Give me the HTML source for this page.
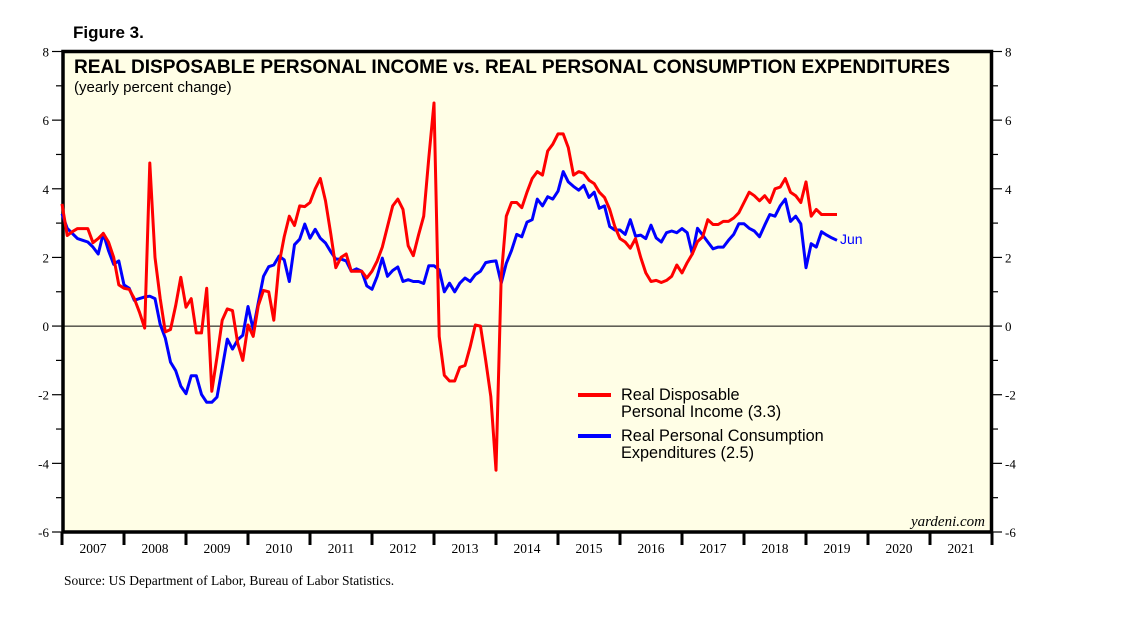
<!DOCTYPE html>
<html><head><meta charset="utf-8"><style>
body{margin:0;background:#fff;width:1138px;height:621px;overflow:hidden}
svg{display:block}
</style></head><body>
<svg id="chart" width="1138" height="621" xmlns="http://www.w3.org/2000/svg" font-family="Liberation Sans, sans-serif">
<text x="73" y="38" font-size="17" font-weight="bold">Figure 3.</text>
<rect x="63" y="51.5" width="928.5" height="480.5" fill="#fffee6" stroke="#000" stroke-width="3.5"/>
<text x="74" y="73" font-size="19" font-weight="bold" textLength="876" lengthAdjust="spacingAndGlyphs">REAL DISPOSABLE PERSONAL INCOME vs. REAL PERSONAL CONSUMPTION EXPENDITURES</text>
<text x="74" y="92" font-size="15">(yearly percent change)</text>
<g id="axes"></g>
<g id="series"></g>
<text x="840" y="244" font-size="14" fill="#0000ff">Jun</text>
<g>
<line x1="578" y1="395" x2="611" y2="395" stroke="#ff0000" stroke-width="4"/>
<text x="621" y="400" font-size="16.3"><tspan x="621">Real Disposable</tspan><tspan x="621" dy="17">Personal Income (3.3)</tspan></text>
<line x1="578" y1="436" x2="611" y2="436" stroke="#0000ff" stroke-width="4"/>
<text x="621" y="441" font-size="16.3"><tspan x="621">Real Personal Consumption</tspan><tspan x="621" dy="17">Expenditures (2.5)</tspan></text>
</g>
<text x="985" y="526" font-size="15" font-style="italic" font-family="Liberation Serif, serif" text-anchor="end">yardeni.com</text>
<text x="64" y="585" font-size="13.5" font-family="Liberation Serif, serif">Source: US Department of Labor, Bureau of Labor Statistics.</text>
</svg>
<script>
const years = [2007,2008,2009,2010,2011,2012,2013,2014,2015,2016,2017,2018,2019,2020,2021];
const yTicks = [8,6,4,2,0,-2,-4,-6];
const incomeValues = [3.56,2.64,2.75,2.84,2.84,2.84,2.43,2.55,2.7,2.45,2.0,1.2,1.1,1.07,0.8,0.4,-0.06,4.75,2.0,0.8,-0.17,-0.1,0.6,1.42,0.55,0.8,-0.2,-0.2,1.1,-1.9,-0.9,0.17,0.5,0.45,-0.5,-1.0,0.03,-0.3,0.6,1.04,1.0,0.17,1.8,2.6,3.2,2.93,3.5,3.48,3.6,4.0,4.3,3.65,2.7,1.7,2.0,2.1,1.6,1.6,1.6,1.4,1.6,1.9,2.3,2.9,3.5,3.7,3.4,2.34,2.05,2.65,3.2,4.9,6.5,-0.3,-1.43,-1.6,-1.6,-1.2,-1.15,-0.6,0.03,0,-1.0,-2.05,-4.2,1.43,3.2,3.6,3.6,3.45,3.9,4.3,4.5,4.4,5.1,5.3,5.6,5.6,5.2,4.4,4.5,4.45,4.25,4.15,3.9,3.75,3.4,2.9,2.55,2.45,2.27,2.55,2.0,1.55,1.3,1.33,1.27,1.33,1.45,1.78,1.55,1.85,2.1,2.46,2.6,3.1,2.96,2.96,3.05,3.05,3.15,3.3,3.6,3.9,3.8,3.65,3.8,3.6,4.0,4.05,4.3,3.9,3.8,3.6,4.2,3.2,3.4,3.25,3.25,3.25,3.25];
const consumptionValues = [3.27,2.85,2.7,2.55,2.5,2.45,2.3,2.1,2.7,2.2,1.8,1.9,1.2,1.1,0.75,0.8,0.85,0.87,0.8,0.05,-0.35,-1.05,-1.3,-1.75,-1.97,-1.45,-1.45,-1.99,-2.22,-2.22,-2.07,-1.23,-0.38,-0.67,-0.4,-0.27,0.57,-0.1,0.68,1.45,1.73,1.78,2.04,1.93,1.3,2.37,2.53,2.97,2.56,2.82,2.56,2.42,2.17,1.95,1.95,1.9,1.6,1.67,1.6,1.17,1.07,1.45,1.98,1.45,1.62,1.72,1.3,1.35,1.3,1.3,1.24,1.76,1.76,1.64,1.0,1.25,1.0,1.25,1.4,1.3,1.5,1.6,1.85,1.88,1.9,1.25,1.83,2.2,2.67,2.6,3.03,3.1,3.7,3.5,3.77,3.7,3.93,4.5,4.2,4.07,3.96,4.1,3.75,3.9,3.43,3.5,2.9,2.8,2.8,2.67,3.1,2.62,2.65,2.55,2.94,2.57,2.45,2.72,2.77,2.72,2.84,2.72,2.1,2.85,2.65,2.45,2.25,2.3,2.3,2.5,2.67,2.98,2.98,2.85,2.77,2.6,2.94,3.25,3.2,3.5,3.7,3.05,3.2,2.98,1.7,2.4,2.3,2.75,2.65,2.57,2.5];

const NS='http://www.w3.org/2000/svg';
const X0=62, X1=992, Y0=51.5, Y1=532, YMAX=8, YMIN=-6;
function xYear(y){return X0+(y-years[0])*(X1-X0)/years.length;}
function xMonth(m){return X0+m*(X1-X0)/(years.length*12);}
function yVal(v){return Y0+(YMAX-v)*(Y1-Y0)/(YMAX-YMIN);}
function mk(tag,attrs,parent){const e=document.createElementNS(NS,tag);for(const k in attrs)e.setAttribute(k,attrs[k]);parent.appendChild(e);return e;}
const axes=document.getElementById('axes');
const series=document.getElementById('series');

for(let v=YMIN; v<=YMAX; v++){
  const y=yVal(v);
  const len=(v%2===0)?10:6;
  const lt=mk('line',{x1:X0-len,y1:y,x2:X0,y2:y,stroke:'#000','stroke-width':1.2},axes);
  
  
  const rt=mk('line',{x1:X1,y1:y,x2:X1+len,y2:y,stroke:'#000','stroke-width':1.2},axes);
  
  
}
yTicks.forEach(v=>{
  const y=yVal(v);
  const l=mk('text',{x:X0-13,y:y+5,'font-size':13,'text-anchor':'end','font-family':'Liberation Serif, serif'},axes);
  l.textContent=v;
  
  
  const r=mk('text',{x:X1+13,y:y+5,'font-size':13,'font-family':'Liberation Serif, serif'},axes);
  r.textContent=v;
  
  
});
const zl=mk('line',{x1:X0,y1:yVal(0),x2:X1,y2:yVal(0),stroke:'#000','stroke-width':1},axes);


years.concat([years[years.length-1]+1]).forEach(yr=>{
  const x=xYear(yr);
  const t=mk('line',{x1:x,y1:Y1,x2:x,y2:Y1+13,stroke:'#000','stroke-width':3},axes);
  
  
});
years.forEach(yr=>{
  const l=mk('text',{x:xYear(yr+0.5),y:Y1+21,'font-size':13.5,'text-anchor':'middle','font-family':'Liberation Serif, serif'},axes);
  l.textContent=yr;
  
  
});
function drawLine(vals,color,name){
  const pts=vals.map((v,i)=>xMonth(i).toFixed(1)+','+yVal(v).toFixed(1)).join(' ');
  const p=mk('polyline',{points:pts,fill:'none',stroke:color,'stroke-width':3,'stroke-linejoin':'round'},series);
  
  
}
drawLine(consumptionValues,'#0000ff','consumption-line');
drawLine(incomeValues,'#ff0000','income-line');
</script>
</body></html>
